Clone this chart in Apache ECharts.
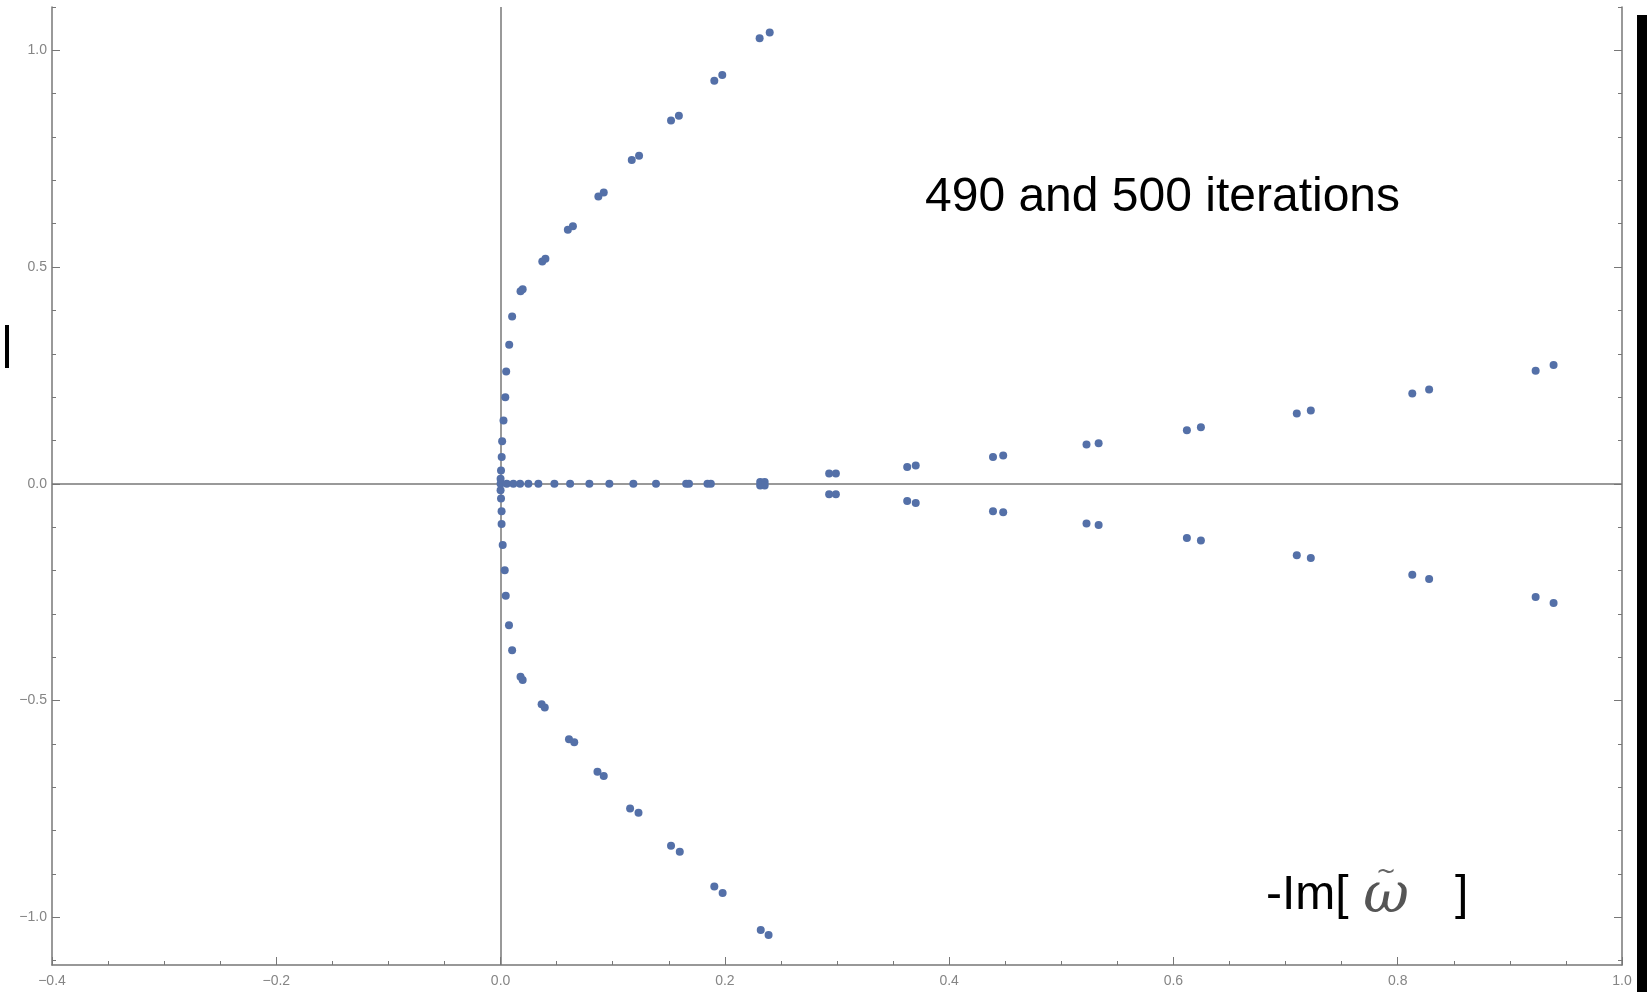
<!DOCTYPE html>
<html>
<head>
<meta charset="utf-8">
<script src="https://cdn.jsdelivr.net/npm/echarts@6.0.0/dist/echarts.min.js"></script>
<style>
  html, body { margin: 0; padding: 0; background: #fff; }
  #chart { width: 1652px; height: 992px; }
</style>
</head>
<body>
<div id="chart"></div>
<script>
// tick labels
var xTicks = [-0.4, -0.2, 0.0, 0.2, 0.4, 0.6, 0.8, 1.0];
var yTicks = [-1.0, -0.5, 0.0, 0.5, 1.0];

// upper arc (490 / 500 iterations come in near-pairs)
var upperArc = [
  [0.231, 1.028], [0.240, 1.041],
  [0.1906, 0.930], [0.1977, 0.943],
  [0.152, 0.838], [0.159, 0.849],
  [0.117, 0.747], [0.1235, 0.757],
  [0.0872, 0.663], [0.092, 0.672],
  [0.0600, 0.586], [0.0645, 0.594],
  [0.0372, 0.513], [0.0400, 0.519],
  [0.0178, 0.444], [0.0197, 0.449],
  [0.0103, 0.386],
  [0.0077, 0.321],
  [0.0050, 0.259],
  [0.0042, 0.200],
  [0.0026, 0.146],
  [0.0014, 0.098],
  [0.0010, 0.062],
  [0.0004, 0.031],
  [0.0, 0.012]
];

// lower arc
var lowerArc = [
  [0.232, -1.029], [0.239, -1.041],
  [0.1906, -0.929], [0.198, -0.944],
  [0.152, -0.835], [0.1598, -0.849],
  [0.1155, -0.749], [0.123, -0.759],
  [0.0864, -0.664], [0.092, -0.674],
  [0.061, -0.589], [0.0657, -0.596],
  [0.0366, -0.5085], [0.0394, -0.516],
  [0.0178, -0.445], [0.0197, -0.4527],
  [0.0103, -0.384],
  [0.0075, -0.326],
  [0.0046, -0.258],
  [0.0037, -0.1995],
  [0.0019, -0.141],
  [0.0009, -0.0924],
  [0.0009, -0.063],
  [0.0004, -0.034],
  [0.0, -0.015]
];

// points on the real axis
var realAxis = [
  [0.0, 0.0], [0.0055, 0.0], [0.0114, 0.0], [0.0174, 0.0], [0.0248, 0.0],
  [0.0337, 0.0], [0.048, 0.0], [0.062, 0.0], [0.0792, 0.0], [0.097, 0.0],
  [0.1184, 0.0], [0.1386, 0.0], [0.1655, 0.0], [0.168, 0.0],
  [0.1845, 0.0], [0.1875, 0.0],
  [0.2315, 0.004], [0.2355, 0.004], [0.2315, -0.004], [0.2355, -0.004]
];

// upper right branch
var upperBranch = [
  [0.293, 0.024], [0.299, 0.024],
  [0.3626, 0.039], [0.3702, 0.0423],
  [0.4391, 0.062], [0.4482, 0.0653],
  [0.5225, 0.0907], [0.5333, 0.0937],
  [0.612, 0.1238], [0.6245, 0.1307],
  [0.710, 0.1623], [0.7225, 0.1692],
  [0.813, 0.2085], [0.828, 0.2177],
  [0.923, 0.2607], [0.939, 0.2739]
];

// lower right branch
var lowerBranch = [
  [0.293, -0.024], [0.299, -0.024],
  [0.3626, -0.0395], [0.3702, -0.044],
  [0.4391, -0.063], [0.4482, -0.0656],
  [0.5225, -0.0917], [0.5333, -0.095],
  [0.612, -0.125], [0.6245, -0.131],
  [0.710, -0.165], [0.7225, -0.171],
  [0.813, -0.2095], [0.828, -0.2196],
  [0.923, -0.261], [0.939, -0.275]
];

var xMin = -0.4, xMax = 1.0, yMin = -1.11, yMax = 1.10;

var xMinor = [], yMinor = [];
for (var i = -8; i <= 20; i++) xMinor.push(+(i * 0.05).toFixed(2));
for (var j = -11; j <= 11; j++) yMinor.push(+(j * 0.1).toFixed(1));

var axisCol = '#777777';
var labelCol = '#858585';
var dotCol = '#5470a8';

function fmt(v) {
  return (v < -1e-9 ? '\u2212' : '') + Math.abs(v).toFixed(1);
}

var chart = echarts.init(document.getElementById('chart'));

function dots(name, data) {
  return {
    name: name,
    type: 'scatter',
    xAxisIndex: 0,
    yAxisIndex: 0,
    symbol: 'circle',
    symbolSize: 8,
    z: 3,
    itemStyle: { color: dotCol, opacity: 1 },
    data: data
  };
}

var series = [
  dots('upper arc', upperArc),
  dots('lower arc', lowerArc),
  dots('real axis', realAxis),
  dots('upper branch', upperBranch),
  dots('lower branch', lowerBranch)
];
// the axes through the origin
series[0].markLine = {
  silent: true,
  z: 1,
  symbol: 'none',
  animation: false,
  label: { show: false },
  lineStyle: { color: axisCol, width: 1.5, type: 'solid' },
  emphasis: { disabled: true },
  data: [{ xAxis: 0 }, { yAxis: 0 }]
};

var labelFont = 'Liberation Sans, Arial, sans-serif';

var option = {
  backgroundColor: '#ffffff',
  animation: false,
  grid: { left: 52, right: 30, top: 7, bottom: 27, outerBoundsMode: 'none' },
  xAxis: [{
    type: 'value', min: xMin, max: xMax, position: 'bottom',
    splitLine: { show: false },
    axisLine: { show: true, onZero: false, lineStyle: { color: axisCol, width: 1.5 } },
    axisTick: { show: true, inside: true, length: 8, customValues: xTicks, lineStyle: { color: axisCol } },
    axisLabel: { customValues: xTicks, formatter: fmt, color: labelCol, fontSize: 14, margin: 9, fontFamily: labelFont }
  }, {
    type: 'value', min: xMin, max: xMax, position: 'bottom',
    splitLine: { show: false },
    axisLine: { show: false, onZero: false },
    axisTick: { show: true, inside: true, length: 4, customValues: xMinor, lineStyle: { color: axisCol } },
    axisLabel: { show: false }
  }],
  yAxis: [{
    type: 'value', min: yMin, max: yMax, position: 'left',
    splitLine: { show: false },
    axisLine: { show: true, onZero: false, lineStyle: { color: axisCol, width: 1.5 } },
    axisTick: { show: true, inside: true, length: 8, customValues: yTicks, lineStyle: { color: axisCol } },
    axisLabel: { customValues: yTicks, formatter: fmt, color: labelCol, fontSize: 14, margin: 5, fontFamily: labelFont }
  }, {
    type: 'value', min: yMin, max: yMax, position: 'left',
    splitLine: { show: false },
    axisLine: { show: false, onZero: false },
    axisTick: { show: true, inside: true, length: 4, customValues: yMinor, lineStyle: { color: axisCol } },
    axisLabel: { show: false }
  }, {
    type: 'value', min: yMin, max: yMax, position: 'right',
    splitLine: { show: false },
    axisLine: { show: true, onZero: false, lineStyle: { color: axisCol, width: 1.5 } },
    axisTick: { show: true, inside: true, length: 8, customValues: yTicks, lineStyle: { color: axisCol } },
    axisLabel: { show: false }
  }, {
    type: 'value', min: yMin, max: yMax, position: 'right',
    splitLine: { show: false },
    axisLine: { show: false, onZero: false },
    axisTick: { show: true, inside: true, length: 4, customValues: yMinor, lineStyle: { color: axisCol } },
    axisLabel: { show: false }
  }],
  graphic: [
    { type: 'text', z: 10, style: { text: '490 and 500 iterations', x: 925, y: 198, textAlign: 'left', textVerticalAlign: 'middle', font: '48px "Liberation Sans", Arial, sans-serif', fill: '#000' } },
    { type: 'text', z: 10, style: { text: '-Im[', x: 1266, y: 896, textAlign: 'left', textVerticalAlign: 'middle', font: '48px "Liberation Sans", Arial, sans-serif', fill: '#000' } },
    { type: 'text', z: 10, style: { text: '\u03c9', x: 1386, y: 897, textAlign: 'center', textVerticalAlign: 'middle', font: 'italic 56px "DejaVu Serif", serif', fill: '#555' } },
    { type: 'text', z: 10, style: { text: '~', x: 1386, y: 873, textAlign: 'center', textVerticalAlign: 'middle', font: '24px "DejaVu Sans", sans-serif', fill: '#666' } },
    { type: 'text', z: 10, style: { text: ']', x: 1455, y: 896, textAlign: 'left', textVerticalAlign: 'middle', font: '48px "Liberation Sans", Arial, sans-serif', fill: '#000' } },
    { type: 'rect', z: 10, shape: { x: 5, y: 325, width: 4, height: 43 }, style: { fill: '#000' } },
    { type: 'rect', z: 10, shape: { x: 1637, y: 15, width: 10, height: 977 }, style: { fill: '#000' } }
  ],
  series: series
};

chart.setOption(option);
</script>
</body>
</html>
